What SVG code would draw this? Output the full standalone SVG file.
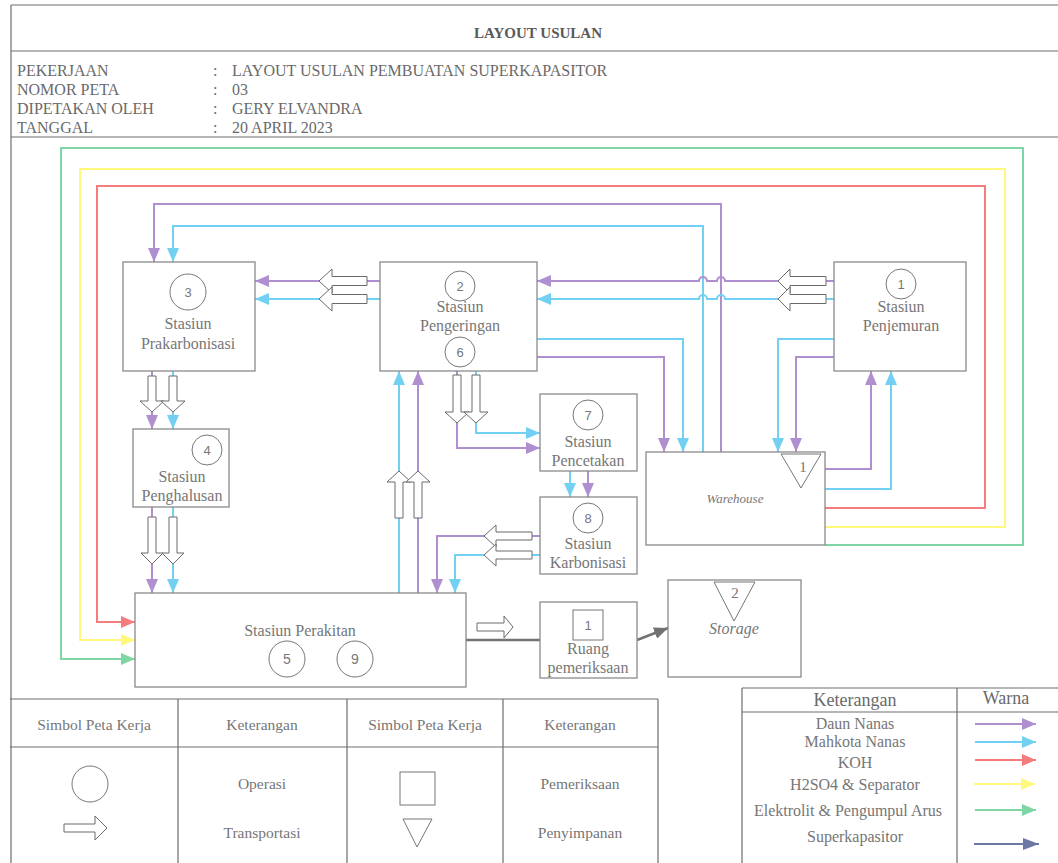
<svg xmlns="http://www.w3.org/2000/svg" width="1058" height="863" viewBox="0 0 1058 863">
<style>
.frame{stroke:#6e6e6e;stroke-width:1.2;fill:none}
.box{fill:#fff;stroke:#8a8a8a;stroke-width:1.3}
.t{font-family:"Liberation Serif",serif;font-size:16px;fill:#767676;text-anchor:middle}
.h{font-family:"Liberation Serif",serif;font-size:16px;fill:#6a6a6a}
.lt{font-family:"Liberation Serif",serif;font-size:15.5px;fill:#767676;text-anchor:middle}
.num{font-family:"Liberation Sans",sans-serif;font-size:13px;fill:#777;text-anchor:middle}
.c{fill:#fff;stroke:#777;stroke-width:1}
.ha{fill:#fff;stroke:#6a6a6a;stroke-width:1}
.ln{fill:none;stroke-width:2}
.p{stroke:#b08fd0}
.b{stroke:#72d0f2}
.r{stroke:#f47c7c}
.y{stroke:#fff87a}
.g{stroke:#7ed6a4}
.d{stroke:#6c78a4}
.k{stroke:#727272;stroke-width:2.5}
</style>
<defs>
<marker id="mP" markerUnits="userSpaceOnUse" markerWidth="14" markerHeight="12" refX="14" refY="6" orient="auto"><path d="M0,0 L14,6 L0,12 z" fill="#b08fd0"/></marker>
<marker id="mB" markerUnits="userSpaceOnUse" markerWidth="14" markerHeight="12" refX="14" refY="6" orient="auto"><path d="M0,0 L14,6 L0,12 z" fill="#72d0f2"/></marker>
<marker id="mR" markerUnits="userSpaceOnUse" markerWidth="14" markerHeight="12" refX="14" refY="6" orient="auto"><path d="M0,0 L14,6 L0,12 z" fill="#f47c7c"/></marker>
<marker id="mY" markerUnits="userSpaceOnUse" markerWidth="14" markerHeight="12" refX="14" refY="6" orient="auto"><path d="M0,0 L14,6 L0,12 z" fill="#fff87a"/></marker>
<marker id="mG" markerUnits="userSpaceOnUse" markerWidth="14" markerHeight="12" refX="14" refY="6" orient="auto"><path d="M0,0 L14,6 L0,12 z" fill="#7ed6a4"/></marker>
<marker id="mD" markerUnits="userSpaceOnUse" markerWidth="16" markerHeight="12" refX="16" refY="6" orient="auto"><path d="M0,0 L16,6 L0,12 z" fill="#6c78a4"/></marker>
<marker id="mK" markerUnits="userSpaceOnUse" markerWidth="14" markerHeight="12" refX="14" refY="6" orient="auto"><path d="M0,0 L14,6 L0,12 z" fill="#727272"/></marker>
</defs>
<rect x="0" y="0" width="1058" height="863" fill="#fff"/>

<g id="header">
<path class="frame" d="M11,5 H1058 M11,51 H1058 M11,137 H1058 M11,5 V863"/>
<text x="538" y="38" style="font-family:'Liberation Serif',serif;font-size:15px;font-weight:bold;fill:#5a5a5a;text-anchor:middle">LAYOUT USULAN</text>
<text class="h" x="17" y="76">PEKERJAAN</text>
<text class="h" x="17" y="95">NOMOR PETA</text>
<text class="h" x="17" y="114">DIPETAKAN OLEH</text>
<text class="h" x="17" y="133">TANGGAL</text>
<text class="h" x="213" y="76">:</text>
<text class="h" x="213" y="95">:</text>
<text class="h" x="213" y="114">:</text>
<text class="h" x="213" y="133">:</text>
<text class="h" x="232" y="76">LAYOUT USULAN PEMBUATAN SUPERKAPASITOR</text>
<text class="h" x="232" y="95">03</text>
<text class="h" x="232" y="114">GERY ELVANDRA</text>
<text class="h" x="232" y="133">20 APRIL 2023</text>
</g>

<g id="connectors">
<!-- outer loops -->
<path class="ln g" d="M825,545 H1023 V148 H61 V659 H135" marker-end="url(#mG)"/>
<path class="ln y" d="M825,527 H1005 V169 H80 V640 H135" marker-end="url(#mY)"/>
<path class="ln r" d="M825,508 H985 V186 H97 V622 H135" marker-end="url(#mR)"/>
<!-- warehouse to prakarbonisasi -->
<path class="ln p" d="M721,452 V204 H154 V262" marker-end="url(#mP)"/>
<path class="ln b" d="M703,452 V226 H173 V262" marker-end="url(#mB)"/>
<!-- penjemuran to pengeringan with jumps -->
<path class="ln p" d="M834,281 H725 A4,4 0 0 0 717,281 H707 A4,4 0 0 0 699,281 H537" marker-end="url(#mP)"/>
<path class="ln b" d="M834,299 H725 A4,4 0 0 0 717,299 H707 A4,4 0 0 0 699,299 H537" marker-end="url(#mB)"/>
<!-- pengeringan to prakarbonisasi -->
<path class="ln p" d="M380,281 H255" marker-end="url(#mP)"/>
<path class="ln b" d="M380,299 H255" marker-end="url(#mB)"/>
<!-- to warehouse -->
<path class="ln b" d="M537,339 H683 V452" marker-end="url(#mB)"/>
<path class="ln p" d="M537,357 H664 V452" marker-end="url(#mP)"/>
<path class="ln b" d="M834,339 H778 V452" marker-end="url(#mB)"/>
<path class="ln p" d="M834,357 H796 V452" marker-end="url(#mP)"/>
<!-- warehouse to penjemuran -->
<path class="ln p" d="M825,469 H871 V371" marker-end="url(#mP)"/>
<path class="ln b" d="M825,489 H891 V371" marker-end="url(#mB)"/>
<!-- prak to penghalusan -->
<path class="ln p" d="M152,371 V429" marker-end="url(#mP)"/>
<path class="ln b" d="M173,371 V429" marker-end="url(#mB)"/>
<!-- penghalusan to perakitan -->
<path class="ln p" d="M152,507 V593" marker-end="url(#mP)"/>
<path class="ln b" d="M173,507 V593" marker-end="url(#mB)"/>
<!-- perakitan to pengeringan -->
<path class="ln b" d="M399,593 V371" marker-end="url(#mB)"/>
<path class="ln p" d="M418,593 V371" marker-end="url(#mP)"/>
<!-- pengeringan to pencetakan -->
<path class="ln p" d="M457,371 V448 H540" marker-end="url(#mP)"/>
<path class="ln b" d="M476,371 V433 H540" marker-end="url(#mB)"/>
<!-- pencetakan to karbonisasi -->
<path class="ln b" d="M570,471 V497" marker-end="url(#mB)"/>
<path class="ln p" d="M588,471 V497" marker-end="url(#mP)"/>
<!-- karbonisasi to perakitan -->
<path class="ln p" d="M540,536 H437 V593" marker-end="url(#mP)"/>
<path class="ln b" d="M540,555 H455 V593" marker-end="url(#mB)"/>
<!-- perakitan to ruang to storage -->
<path class="ln k" d="M466,640 H540"/>
<path class="ln k" d="M637,640 L668,628" marker-end="url(#mK)"/>
<!-- hollow transport arrows -->
<path class="ha" d="M367,276.5 L332,276.5 L332,269 L319,281 L332,293 L332,285.5 L367,285.5Z"/>
<path class="ha" d="M367,294.5 L332,294.5 L332,287 L319,299 L332,311 L332,303.5 L367,303.5Z"/>
<path class="ha" d="M826,276.5 L790,276.5 L790,269 L778,281 L790,293 L790,285.5 L826,285.5Z"/>
<path class="ha" d="M826,294.5 L790,294.5 L790,287 L778,299 L790,311 L790,303.5 L826,303.5Z"/>
<path class="ha" d="M148,376 L156,376 L156,401 L164,401 L152,412 L140,401 L148,401Z"/>
<path class="ha" d="M169,376 L177,376 L177,401 L185,401 L173,412 L161,401 L169,401Z"/>
<path class="ha" d="M148,517 L156,517 L156,553 L163,553 L152,564 L141,553 L148,553Z"/>
<path class="ha" d="M169,517 L177,517 L177,553 L184,553 L173,564 L162,553 L169,553Z"/>
<path class="ha" d="M453,375 L461,375 L461,412 L469,412 L457,423 L445,412 L453,412Z"/>
<path class="ha" d="M472,375 L480,375 L480,412 L488,412 L476,423 L464,412 L472,412Z"/>
<path class="ha" d="M395,518 L403,518 L403,482 L411,482 L399,471 L387,482 L395,482Z"/>
<path class="ha" d="M414,518 L422,518 L422,482 L430,482 L418,471 L406,482 L414,482Z"/>
<path class="ha" d="M532,532 L496,532 L496,525 L484,536 L496,547 L496,540 L532,540Z"/>
<path class="ha" d="M532,551 L496,551 L496,544 L484,555 L496,566 L496,559 L532,559Z"/>
<path class="ha" d="M477,623 L504,623 L504,616 L513,627 L504,638 L504,631 L477,631Z"/>
</g>

<g id="node-prakarbonisasi">
<rect class="box" x="123" y="262" width="132" height="109"/>
<circle class="c" cx="188" cy="292" r="18"/>
<text class="num" x="188" y="297">3</text>
<text class="t" x="188" y="329">Stasiun</text>
<text class="t" x="188" y="349">Prakarbonisasi</text>
</g>

<g id="node-pengeringan">
<rect class="box" x="380" y="262" width="157" height="109"/>
<circle class="c" cx="460" cy="286" r="15"/>
<text class="num" x="460" y="291">2</text>
<text class="t" x="460" y="312">Stasiun</text>
<text class="t" x="460" y="331">Pengeringan</text>
<circle class="c" cx="460" cy="352" r="15"/>
<text class="num" x="460" y="357">6</text>
</g>

<g id="node-penjemuran">
<rect class="box" x="834" y="262" width="132" height="109"/>
<circle class="c" cx="901" cy="284" r="15"/>
<text class="num" x="901" y="289">1</text>
<text class="t" x="901" y="312">Stasiun</text>
<text class="t" x="901" y="331">Penjemuran</text>
</g>

<g id="node-penghalusan">
<rect class="box" x="133" y="429" width="96" height="78"/>
<circle class="c" cx="207" cy="450" r="15"/>
<text class="num" x="207" y="455">4</text>
<text class="t" x="182" y="482">Stasiun</text>
<text class="t" x="182" y="501">Penghalusan</text>
</g>

<g id="node-pencetakan">
<rect class="box" x="540" y="394" width="97" height="77"/>
<circle class="c" cx="588" cy="415" r="15"/>
<text class="num" x="588" y="420">7</text>
<text class="t" x="588" y="447">Stasiun</text>
<text class="t" x="588" y="466">Pencetakan</text>
</g>

<g id="node-karbonisasi">
<rect class="box" x="540" y="497" width="97" height="77"/>
<circle class="c" cx="588" cy="518" r="15"/>
<text class="num" x="588" y="523">8</text>
<text class="t" x="588" y="549">Stasiun</text>
<text class="t" x="588" y="568">Karbonisasi</text>
</g>

<g id="node-warehouse">
<rect class="box" x="646" y="452" width="179" height="93"/>
<path class="c" d="M781,454 L821,454 L801,488Z"/>
<text x="803" y="472" style="font-family:'Liberation Serif',serif;font-size:15px;fill:#777;text-anchor:middle">1</text>
<text x="735" y="503" style="font-family:'Liberation Serif',serif;font-size:13px;font-style:italic;fill:#777;text-anchor:middle">Warehouse</text>
</g>

<g id="node-perakitan">
<rect class="box" x="135" y="593" width="331" height="94"/>
<text class="t" x="300" y="636">Stasiun Perakitan</text>
<circle class="c" cx="287" cy="659" r="18"/>
<text class="num" x="287" y="664" style="font-size:14px">5</text>
<circle class="c" cx="355" cy="659" r="18"/>
<text class="num" x="355" y="664" style="font-size:14px">9</text>
</g>

<g id="node-ruang">
<rect class="box" x="540" y="602" width="97" height="76"/>
<rect class="c" x="573" y="610" width="30" height="30"/>
<text class="num" x="588" y="630">1</text>
<text class="t" x="588" y="654">Ruang</text>
<text class="t" x="588" y="673">pemeriksaan</text>
</g>

<g id="node-storage">
<rect class="box" x="668" y="580" width="133" height="97"/>
<path class="c" d="M714,582 L755,582 L734,621Z"/>
<text x="735" y="598" style="font-family:'Liberation Serif',serif;font-size:15px;fill:#777;text-anchor:middle">2</text>
<text x="734" y="634" style="font-family:'Liberation Serif',serif;font-size:16px;font-style:italic;fill:#777;text-anchor:middle">Storage</text>
</g>

<g id="legend-symbols">
<path class="frame" d="M10,699 H658 M10,747 H658 M178,699 V863 M347,699 V863 M503,699 V863 M658,699 V863"/>
<text class="lt" x="94" y="730">Simbol Peta Kerja</text>
<text class="lt" x="262" y="730">Keterangan</text>
<text class="lt" x="425" y="730">Simbol Peta Kerja</text>
<text class="lt" x="580" y="730">Keterangan</text>
<circle class="c" cx="90" cy="784" r="18"/>
<path class="ha" d="M64,824 L95,824 L95,816 L107,828 L95,840 L95,832 L64,832Z"/>
<text class="lt" x="262" y="789">Operasi</text>
<text class="lt" x="262" y="838">Transportasi</text>
<rect class="c" x="400" y="772" width="35" height="33"/>
<path class="c" d="M403,819 L432,819 L417,847Z"/>
<text class="lt" x="580" y="789">Pemeriksaan</text>
<text class="lt" x="580" y="838">Penyimpanan</text>
</g>

<g id="legend-colors">
<path class="frame" d="M742,688 H1058 M742,712 H1058 M742,688 V863 M957,688 V863"/>
<text x="855" y="706" style="font-family:'Liberation Serif',serif;font-size:18px;fill:#6a6a6a;text-anchor:middle">Keterangan</text>
<text x="1006" y="704" style="font-family:'Liberation Serif',serif;font-size:18px;fill:#6a6a6a;text-anchor:middle">Warna</text>
<text class="lt" x="855" y="729" style="font-size:16px">Daun Nanas</text>
<text class="lt" x="855" y="747" style="font-size:16px">Mahkota Nanas</text>
<text class="lt" x="855" y="768" style="font-size:16px">KOH</text>
<text class="lt" x="855" y="790" style="font-size:16px">H2SO4 &amp; Separator</text>
<text class="lt" x="848" y="816" style="font-size:16px">Elektrolit &amp; Pengumpul Arus</text>
<text class="lt" x="855" y="842" style="font-size:16px">Superkapasitor</text>
<path class="ln p" d="M975,724 H1036" marker-end="url(#mP)"/>
<path class="ln b" d="M975,742 H1036" marker-end="url(#mB)"/>
<path class="ln r" d="M975,760 H1036" marker-end="url(#mR)"/>
<path class="ln y" d="M974,784 H1035" marker-end="url(#mY)"/>
<path class="ln g" d="M975,810 H1036" marker-end="url(#mG)"/>
<path class="ln d" d="M974,844 H1039" marker-end="url(#mD)"/>
</g>
</svg>
